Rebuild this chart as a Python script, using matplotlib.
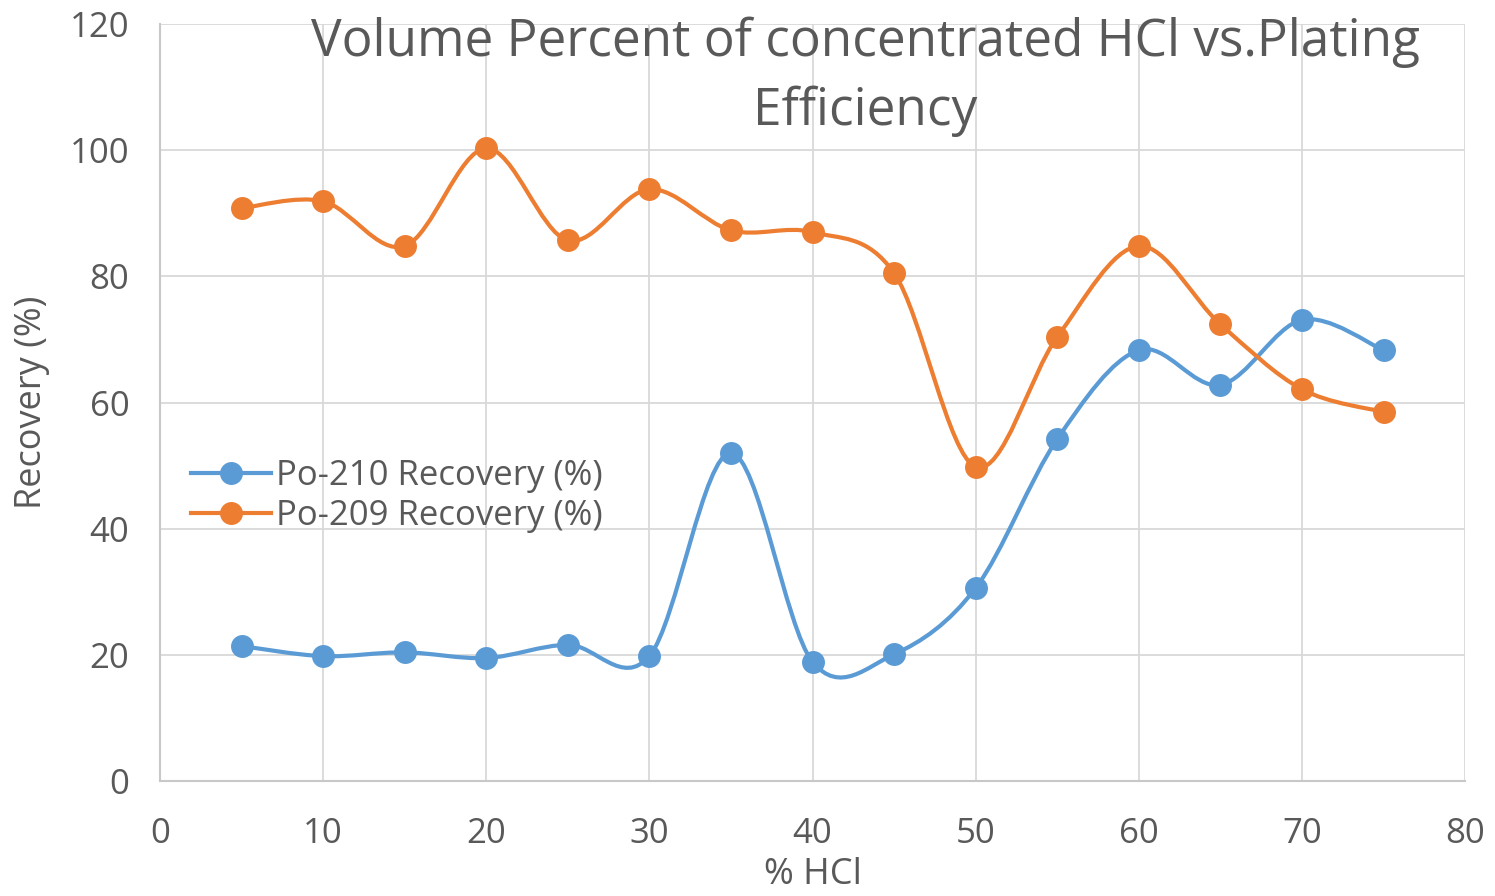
import matplotlib
matplotlib.use('Agg')
import matplotlib.pyplot as plt
import numpy as np
from matplotlib.path import Path
from matplotlib.patches import PathPatch
from matplotlib.lines import Line2D

# data
hcl_percent = [5, 10, 15, 20, 25, 30, 35, 40, 45, 50, 55, 60, 65, 70, 75]
po210_recovery = [21.4, 19.8, 20.4, 19.5, 21.6, 19.8, 52.0, 18.9, 20.1, 30.6,
                  54.2, 68.3, 62.8, 73.1, 68.3]
po209_recovery = [90.8, 91.9, 84.8, 100.3, 85.7, 93.8, 87.3, 87.0, 80.5, 49.8,
                  70.4, 84.8, 72.4, 62.1, 58.5]

series_labels = ['Po-210 Recovery (%)', 'Po-209 Recovery (%)']
series_colors = ['#5B9BD5', '#ED7D31']
text_color = '#595959'
grid_color = '#D9D9D9'

plt.rcParams['font.family'] = ['Open Sans', 'DejaVu Sans']


def smooth_path(xs, ys):
    # Excel-style smoothed line: cubic Bezier segments through each point
    pts = np.column_stack([xs, ys]).astype(float)
    n = len(pts)
    verts = [pts[0]]
    codes = [Path.MOVETO]
    for i in range(n - 1):
        p0 = pts[i - 1] if i > 0 else pts[i]
        p1 = pts[i]
        p2 = pts[i + 1]
        p3 = pts[i + 2] if i + 2 < n else pts[i + 1]
        c1 = p1 + (p2 - p0) / 6.0
        c2 = p2 - (p3 - p1) / 6.0
        verts += [c1, c2, p2]
        codes += [Path.CURVE4] * 3
    return Path(verts, codes)


fig = plt.figure(figsize=(14.95, 8.96), dpi=100)
ax = fig.add_axes([0.107, 0.1283, 0.873, 0.8449])

handles = []
for ys, color, label in zip([po210_recovery, po209_recovery], series_colors, series_labels):
    patch = PathPatch(smooth_path(hcl_percent, ys), facecolor='none',
                      edgecolor=color, linewidth=3, capstyle='round', zorder=3)
    ax.add_patch(patch)
    ax.plot(hcl_percent, ys, linestyle='none', marker='o', markersize=15.5,
            color=color, zorder=4)
    handles.append(Line2D([], [], color=color, linewidth=3, marker='o',
                          markersize=15.5, label=label))

ax.set_xlim(0, 80)
ax.set_ylim(0, 120)
ax.set_xticks(range(0, 81, 10))
ax.set_yticks(range(0, 121, 20))
ax.grid(True, color=grid_color, linewidth=1.3, zorder=0)
ax.set_axisbelow(True)
for side in ['top', 'right']:
    ax.spines[side].set_visible(False)
for side in ['left', 'bottom']:
    ax.spines[side].set_color('#C8C8C8')
    ax.spines[side].set_linewidth(1.5)

ax.tick_params(axis='both', length=0, labelsize=25, labelcolor=text_color)
ax.tick_params(axis='x', pad=26)
ax.tick_params(axis='y', pad=22)

ax.set_xlabel('% HCl', fontsize=26, color=text_color, labelpad=4)
ax.set_ylabel('Recovery (%)', fontsize=26, color=text_color, labelpad=14)

ax.legend(handles=handles, loc='upper left', bbox_to_anchor=(0.013, 0.444),
          frameon=False, fontsize=25, handlelength=2.3, handletextpad=0.15,
          labelspacing=0.18, labelcolor=text_color, borderaxespad=0)

fig.text(0.5786, 0.982, 'Volume Percent of concentrated HCl vs.Plating\nEfficiency',
         ha='center', va='top', multialignment='center', fontsize=37,
         color=text_color, linespacing=1.45)

fig.savefig('out.png', dpi=100)
plt.close(fig)
